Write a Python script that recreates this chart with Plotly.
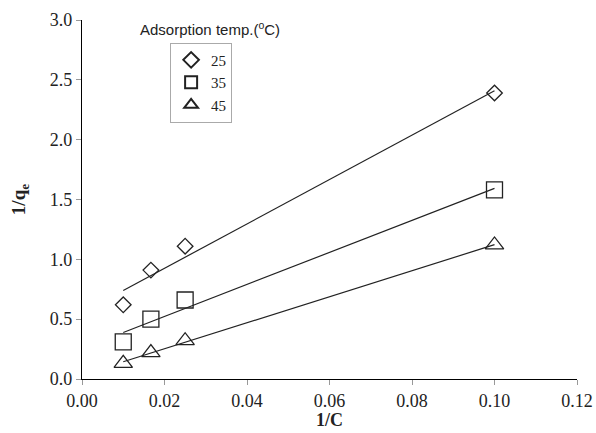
import numpy as np
import plotly.graph_objects as go

# Reciprocal equilibrium concentration (1/C) and reciprocal uptake (1/qe)
inv_c = [0.01, 0.0167, 0.025, 0.10]
temps = ["25", "35", "45"]
inv_qe_25 = [0.62, 0.91, 1.11, 2.39]
inv_qe_35 = [0.31, 0.50, 0.66, 1.58]
inv_qe_45 = [0.13, 0.22, 0.32, 1.12]
symbols = ["diamond-open", "square-open", "triangle-up-open"]
sizes = [12, 16, 16]

x_ticks = [0.0, 0.02, 0.04, 0.06, 0.08, 0.10, 0.12]
y_ticks = [0.0, 0.5, 1.0, 1.5, 2.0, 2.5, 3.0]

serif = "Liberation Serif"
ink = "#222222"

fig = go.Figure()
for name, ys, sym, sz in zip(temps, [inv_qe_25, inv_qe_35, inv_qe_45], symbols, sizes):
    # least-squares Langmuir line through each isotherm
    slope, icpt = np.polyfit(inv_c, ys, 1)
    xl = np.array([min(inv_c), max(inv_c)])
    fig.add_trace(go.Scatter(x=xl, y=slope * xl + icpt, mode="lines",
                             line=dict(color=ink, width=1.2),
                             showlegend=False, hoverinfo="skip"))
    fig.add_trace(go.Scatter(x=inv_c, y=ys, mode="markers", name=name,
                             marker=dict(symbol=sym, size=sz, color=ink,
                                         line=dict(width=1.3, color=ink))))

axis_common = dict(showline=True, linecolor="black", linewidth=1.2,
                   ticks="outside", ticklen=5, tickcolor="#999999",
                   showgrid=False, zeroline=False, automargin=False,
                   tickfont=dict(family=serif, size=18, color="#222222"))

fig.update_layout(
    width=596, height=433,
    margin=dict(l=82, r=19, t=20, b=54),
    paper_bgcolor="white", plot_bgcolor="white",
    font=dict(family=serif),
    xaxis=dict(range=[0, 0.12], tickvals=x_ticks, tickformat=".2f", **axis_common),
    yaxis=dict(range=[0, 3.0], tickvals=y_ticks, tickformat=".1f", **axis_common),
    legend=dict(x=0.178, y=0.937, xanchor="left", yanchor="top",
                bordercolor="#aaaaaa", borderwidth=1, bgcolor="white",
                font=dict(family=serif, size=15, color="#222222"),
                itemwidth=30, itemsizing="constant", tracegroupgap=0),
    annotations=[
        dict(text="Adsorption temp.(<sup>o</sup>C)", xref="paper", yref="paper",
             x=0.259, y=0.975, xanchor="center", yanchor="middle", showarrow=False,
             font=dict(family="Liberation Sans", size=15, color="#222222")),
        dict(text="<b>1/C</b>", xref="paper", yref="paper", x=0.5, y=-0.115,
             xanchor="center", yanchor="middle", showarrow=False,
             font=dict(family=serif, size=18, color="#222222")),
        dict(text="<b>1/q<sub>e</sub></b>", xref="paper", yref="paper", x=-0.126, y=0.5,
             xanchor="center", yanchor="middle", showarrow=False, textangle=-90,
             font=dict(family=serif, size=19, color="#222222")),
    ],
)

fig.write_html("out.html")
